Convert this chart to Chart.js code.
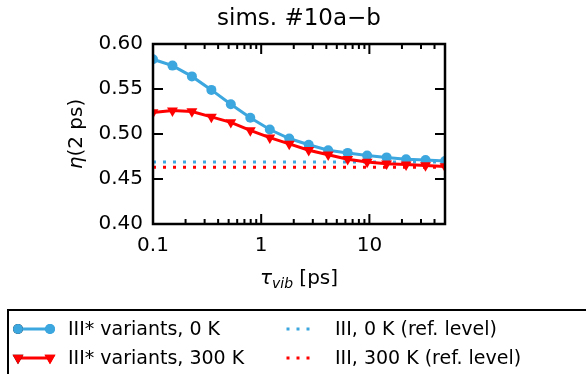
<!DOCTYPE html>
<html>
<head>
<meta charset="utf-8">
<script src="https://cdn.jsdelivr.net/npm/chart.js@4.4.1/dist/chart.umd.min.js"></script>
<style>
  html, body { margin: 0; padding: 0; background: #fff; }
  #wrap { width: 586px; height: 374px; position: relative; }
</style>
</head>
<body>
<div id="wrap"><canvas id="c" width="586" height="374"></canvas></div>
<script>
// ---- data ----
const tauVib = [0.1, 0.1513, 0.2289, 0.3463, 0.524, 0.7931, 1.201, 1.817, 2.75, 4.162, 6.30, 9.534, 14.43, 21.84, 33.04, 50];
const eta0K   = [0.583, 0.576, 0.564, 0.549, 0.533, 0.518, 0.505, 0.495, 0.488, 0.482, 0.479, 0.476, 0.474, 0.472, 0.471, 0.470];
const eta300K = [0.524, 0.526, 0.525, 0.519, 0.513, 0.504, 0.496, 0.489, 0.482, 0.477, 0.472, 0.469, 0.467, 0.466, 0.465, 0.464];
const refX = [0.1, 50];
const ref0K = [0.469, 0.469];
const ref300K = [0.463, 0.463];
const xMajorTicks = [0.1, 1, 10];
const xMinorTicks = [0.2,0.3,0.4,0.5,0.6,0.7,0.8,0.9,2,3,4,5,6,7,8,9,20,30,40];
const yTicks = [0.40, 0.45, 0.50, 0.55, 0.60];
const legendLabels = ['III* variants, 0 K', 'III* variants, 300 K', 'III, 0 K (ref. level)', 'III, 300 K (ref. level)'];
const titleText = 'sims. #10a\u2212b';

const BLUE = '#3ca6de';
const RED = '#ff0000';
const FONT = '"DejaVu Sans", sans-serif';

function pts(xs, ys) { return xs.map((x, i) => ({x: x, y: ys[i]})); }

const decor = {
  id: 'decor',
  afterDatasetsDraw(chart) {
    const ctx = chart.ctx;
    const a = chart.chartArea;
    const xs = chart.scales.x, ys = chart.scales.y;
    ctx.save();
    ctx.strokeStyle = '#000';
    ctx.lineWidth = 2;
    ctx.beginPath();
    xMajorTicks.forEach(v => {
      const p = xs.getPixelForValue(v);
      ctx.moveTo(p, a.bottom); ctx.lineTo(p, a.bottom - 10);
      ctx.moveTo(p, a.top); ctx.lineTo(p, a.top + 10);
    });
    xMinorTicks.forEach(v => {
      const p = xs.getPixelForValue(v);
      ctx.moveTo(p, a.bottom); ctx.lineTo(p, a.bottom - 5);
      ctx.moveTo(p, a.top); ctx.lineTo(p, a.top + 5);
    });
    yTicks.forEach(v => {
      const p = ys.getPixelForValue(v);
      ctx.moveTo(a.left, p); ctx.lineTo(a.left + 10, p);
      ctx.moveTo(a.right, p); ctx.lineTo(a.right - 10, p);
    });
    ctx.stroke();
    ctx.lineWidth = 2.5;
    ctx.strokeRect(a.left, a.top, a.right - a.left, a.bottom - a.top);
    ctx.restore();
  },
  afterDraw(chart) {
    const ctx = chart.ctx;
    const a = chart.chartArea;
    const cx = (a.left + a.right) / 2;
    ctx.save();
    ctx.fillStyle = '#000';
    // title
    ctx.font = '23px ' + FONT;
    ctx.textAlign = 'center';
    ctx.textBaseline = 'middle';
    ctx.fillText(titleText, cx, 19);
    // x label: tau_vib [ps]
    ctx.textBaseline = 'alphabetic';
    ctx.textAlign = 'left';
    const fTau = 'italic 20px ' + FONT;
    const fSub = 'italic 14px ' + FONT;
    const fN = '20px ' + FONT;
    ctx.font = fTau; const wTau = ctx.measureText('\u03c4').width;
    ctx.font = fSub; const wSub = ctx.measureText('vib').width;
    ctx.font = fN; const wRest = ctx.measureText(' [ps]').width;
    let x0 = cx - (wTau + wSub + wRest) / 2;
    const yb = 284;
    ctx.font = fTau; ctx.fillText('\u03c4', x0, yb); x0 += wTau;
    ctx.font = fSub; ctx.fillText('vib', x0, yb + 4); x0 += wSub;
    ctx.font = fN; ctx.fillText(' [ps]', x0, yb);
    // y label: eta(2 ps)
    ctx.save();
    ctx.translate(82, (a.top + a.bottom) / 2);
    ctx.rotate(-Math.PI / 2);
    ctx.font = 'italic 20px ' + FONT; const wEta = ctx.measureText('\u03b7').width;
    ctx.font = fN; const wR = ctx.measureText('(2 ps)').width;
    let y0 = -(wEta + wR) / 2;
    ctx.font = 'italic 20px ' + FONT; ctx.fillText('\u03b7', y0, 0); y0 += wEta;
    ctx.font = fN; ctx.fillText('(2 ps)', y0, 0);
    ctx.restore();

    // legend
    const ds = chart.data.datasets;
    ctx.lineWidth = 2;
    ctx.strokeStyle = '#000';
    ctx.strokeRect(8, 310, 600, 100);
    ctx.font = '19px ' + FONT;
    ctx.textBaseline = 'middle';
    ctx.textAlign = 'left';
    const rows = [329, 358];
    [0, 1].forEach((i, r) => {
      const y = rows[r];
      const d = ds[i];
      ctx.strokeStyle = d.borderColor; ctx.lineWidth = d.borderWidth;
      ctx.beginPath(); ctx.moveTo(18, y); ctx.lineTo(50, y); ctx.stroke();
      [18, 50].forEach(px => {
        Chart.helpers.drawPoint(ctx, {pointStyle: d.pointStyle, radius: d.pointRadius, rotation: d.pointRotation || 0, borderWidth: 0}, px, y);
        ctx.fillStyle = d.pointBackgroundColor;
        ctx.fill();
      });
      ctx.fillStyle = '#000';
      ctx.fillText(d.label, 68, y + 1);
    });
    [2, 3].forEach((i, r) => {
      const y = rows[r];
      const d = ds[i];
      ctx.fillStyle = d.borderColor;
      [288, 298, 308].forEach(px => ctx.fillRect(px - 1.5, y - 1.5, 3, 3));
      ctx.fillStyle = '#000';
      ctx.fillText(d.label, 335, y + 1);
    });
    ctx.restore();
  }
};

new Chart(document.getElementById('c'), {
  type: 'line',
  data: {
    datasets: [
      {label: legendLabels[0], data: pts(tauVib, eta0K), borderColor: BLUE, backgroundColor: BLUE,
       pointBackgroundColor: BLUE, pointBorderWidth: 0, borderWidth: 3, pointStyle: 'circle', pointRadius: 5, clip: 0, order: 1},
      {label: legendLabels[1], data: pts(tauVib, eta300K), borderColor: RED, backgroundColor: RED,
       pointBackgroundColor: RED, pointBorderWidth: 0, borderWidth: 3, pointStyle: 'triangle', pointRotation: 180, pointRadius: 6.3, clip: 0, order: 0},
      {label: legendLabels[2], data: pts(refX, ref0K), borderColor: BLUE, borderWidth: 3, borderDash: [3, 7],
       pointRadius: 0, clip: 0, order: 2},
      {label: legendLabels[3], data: pts(refX, ref300K), borderColor: RED, borderWidth: 3, borderDash: [3, 7],
       pointRadius: 0, clip: 0, order: 3}
    ]
  },
  options: {
    responsive: false,
    animation: false,
    events: [],
    layout: {padding: {top: 44, right: 141, left: 0, bottom: 0}},
    plugins: {legend: {display: false}, title: {display: false}, tooltip: {enabled: false}},
    scales: {
      x: {
        type: 'logarithmic', min: 0.1, max: 50,
        afterBuildTicks: s => { s.ticks = xMajorTicks.map(v => ({value: v})); },
        afterFit: s => { s.height = 150; },
        grid: {display: false, drawTicks: false}, border: {display: false},
        ticks: {font: {family: FONT, size: 20}, color: '#000', maxRotation: 0, autoSkip: false, padding: 10,
                callback: v => String(v)}
      },
      y: {
        min: 0.4, max: 0.6,
        afterBuildTicks: s => { s.ticks = yTicks.map(v => ({value: v})); },
        afterFit: s => { s.width = 153; },
        grid: {display: false, drawTicks: false}, border: {display: false},
        ticks: {font: {family: FONT, size: 20}, color: '#000', padding: 10, callback: v => v.toFixed(2)}
      }
    }
  },
  plugins: [decor]
});
</script>
</body>
</html>
